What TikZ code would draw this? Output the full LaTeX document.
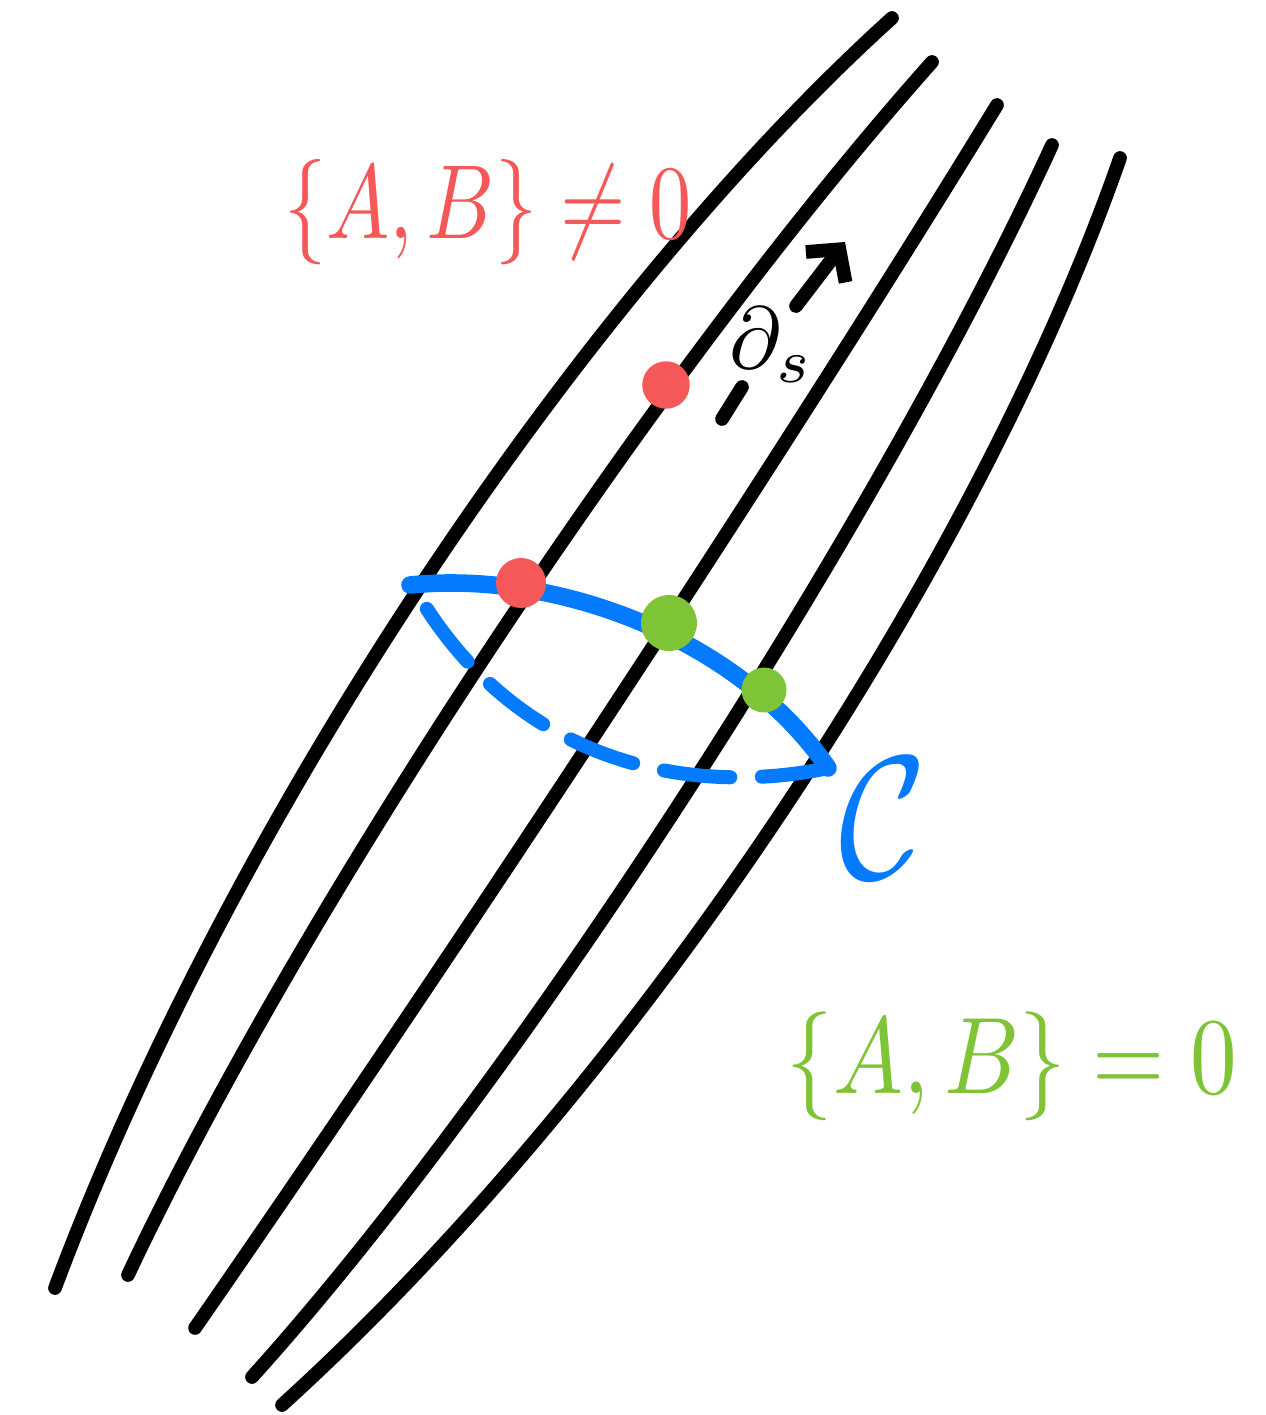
\documentclass[tikz,border=0pt]{standalone}
\usepackage{amsmath, amssymb}
\usepackage{xcolor}
\usepackage{tikz}
\usetikzlibrary{arrows.meta,calc}

\definecolor{sketchred}{RGB}{245,88,88}
\definecolor{sketchgreen}{RGB}{126,196,54}
\definecolor{sketchblue}{RGB}{4,122,255}

\begin{document}
\begin{tikzpicture}[x=0.02cm, y=-0.02cm,
    leaf/.style={line width=7.8pt, line cap=round, black},
    loop/.style={line width=8pt, line cap=round, sketchblue},
    dot/.style={circle, inner sep=0pt, minimum size=#1},
    label/.style={inner sep=0pt, font=\normalsize}
]
\useasboundingbox (0,0) rectangle (1265,1415);

% leaves of the foliation
\draw[leaf] (55,1288) .. controls (230,820) and (580,300) .. (892,18);
\draw[leaf] (128,1275) .. controls (290,930) and (640,390) .. (932,62);
\draw[leaf] (195,1328) .. controls (450,960) and (780,460) .. (997,105);
\draw[leaf] (252,1377) .. controls (520,1080) and (880,520) .. (1052,145);
\draw[leaf] (282,1405) .. controls (640,1080) and (980,560) .. (1120,158);

% the loop C
\coordinate (cstart) at (410,585);
\coordinate (ctip) at (828,768);
\coordinate (cend) at (425,606);
\draw[loop, line width=10pt] (cstart) .. controls (560,570) and (740,640) .. (ctip);
\draw[loop, dash pattern=on 38pt off 18pt] (ctip) .. controls (700,795) and (530,770) .. (cend);
\node[label, sketchblue, xscale=8.5, yscale=10] (cname) at (883,818) {$\mathcal{C}$};

% points on the leaves
\node[dot=0.95cm, fill=sketchred] (p1) at (666,385) {};
\node[dot=1.0cm, fill=sketchred] (p2) at (521,583) {};
\node[dot=1.12cm, fill=sketchgreen] (q1) at (669,623) {};
\node[dot=0.9cm, fill=sketchgreen] (q2) at (764,690) {};

% flow direction
\coordinate (s0) at (722,419);
\coordinate (s1) at (742,387);
\coordinate (s2) at (796,306);
\coordinate (s3) at (845,242);
\draw[leaf] (s0) -- (s1);
\draw[leaf, -{Straight Barb[length=0.45cm, width=1cm]}] (s2) -- (s3);
\node[label, scale=5] (ds) at (772,345) {$\partial_s$};

% brackets
\node[label, sketchred, xscale=4.8, yscale=6] (nonzero) at (488,212) {$\{A,B\}\neq 0$};
\node[label, sketchgreen, xscale=5.3, yscale=6.2] (zero) at (1012,1066) {$\{A,B\}=0$};

\end{tikzpicture}
\end{document}
